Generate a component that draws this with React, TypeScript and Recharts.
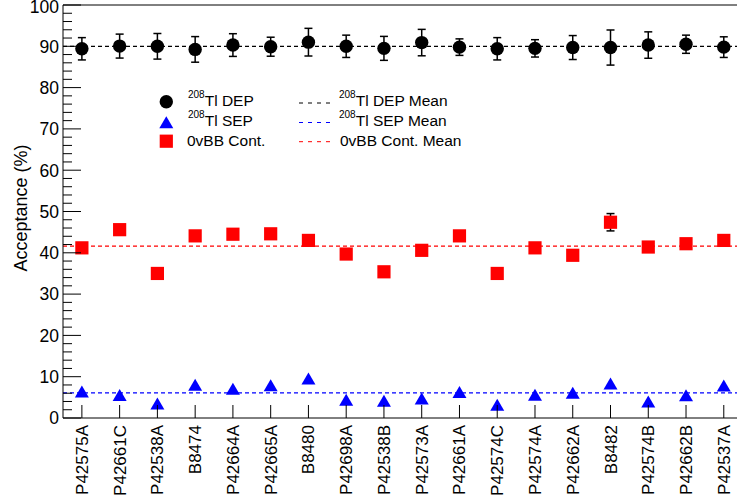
import { ScatterChart, Scatter, XAxis, YAxis, ErrorBar, ReferenceLine } from 'recharts';

const detectors = [
  'P42575A', 'P42661C', 'P42538A', 'B8474', 'P42664A', 'P42665A', 'B8480', 'P42698A', 'P42538B',
  'P42573A', 'P42661A', 'P42574C', 'P42574A', 'P42662A', 'B8482', 'P42574B', 'P42662B', 'P42537A',
];
const depValues = [89.4, 90.05, 90.0, 89.25, 90.3, 89.9, 91.0, 90.0, 89.5, 90.9, 89.8, 89.4, 89.5, 89.7, 89.7, 90.3, 90.5, 89.8];
const depErrors = [2.7, 2.9, 3.1, 3.1, 2.75, 2.3, 3.35, 2.7, 2.9, 3.2, 2.0, 2.7, 2.1, 2.9, 4.25, 3.2, 2.2, 2.5];
const sepValues = [6.4, 5.55, 3.5, 8.05, 7.1, 7.9, 9.55, 4.4, 4.2, 4.7, 6.3, 3.2, 5.6, 6.1, 8.35, 4.0, 5.5, 7.85];
const contValues = [41.2, 45.6, 35.0, 44.1, 44.5, 44.6, 43.0, 39.7, 35.4, 40.6, 44.1, 35.0, 41.2, 39.4, 47.4, 41.4, 42.2, 43.0];
const contErrors = [0.9, 1.0, 0.8, 1.0, 1.0, 1.0, 0.9, 0.9, 0.8, 0.9, 1.0, 0.8, 0.9, 0.9, 2.1, 0.9, 1.0, 1.0];
const depMean = 90.0;
const sepMean = 6.1;
const contMean = 41.6;
const yTicks = [0, 2, 4, 6, 8, 10, 12, 14, 16, 18, 20, 22, 24, 26, 28, 30, 32, 34, 36, 38, 40, 42, 44, 46, 48, 50,
  52, 54, 56, 58, 60, 62, 64, 66, 68, 70, 72, 74, 76, 78, 80, 82, 84, 86, 88, 90, 92, 94, 96, 98, 100];

const FONT = '"Liberation Sans", Arial, Helvetica, sans-serif';

const depData = detectors.map((_, i) => ({ x: i, y: depValues[i], err: depErrors[i] }));
const sepData = detectors.map((_, i) => ({ x: i, y: sepValues[i] }));
const contData = detectors.map((_, i) => ({ x: i, y: contValues[i], err: contErrors[i] }));

// ROOT-style markers
const Circle = (props: any) => <circle cx={props.cx} cy={props.cy} r={6.7} fill="#000" />;
const Square = (props: any) => <rect x={props.cx - 6.6} y={props.cy - 6.6} width={13.2} height={13.2} fill="#ff0000" />;
const Triangle = (props: any) => {
  const { cx, cy } = props;
  return <polygon points={`${cx - 7},${cy + 6} ${cx + 7},${cy + 6} ${cx},${cy - 6}`} fill="#0000ff" />;
};

const YTick = ({ x, y, payload }: any) => {
  const major = payload.value % 10 === 0;
  // keep the top label inside the canvas
  const ty = payload.value === 100 ? y + 1.5 : y;
  return (
    <g>
      <line x1={x} x2={x + (major ? 18 : 9)} y1={y} y2={y} stroke="#000" strokeWidth={1} />
      {major && (
        <text x={x - 4} y={ty} dy="0.36em" textAnchor="end" fontSize={17.5} fontFamily={FONT} fill="#000">
          {payload.value}
        </text>
      )}
    </g>
  );
};

const XTick = ({ x, y, payload }: any) => (
  <g>
    <line x1={x} x2={x} y1={y} y2={y - 13} stroke="#000" strokeWidth={1} />
    <text
      x={x + 6}
      y={y + 7}
      transform={`rotate(-90, ${x + 6}, ${y + 7})`}
      textAnchor="end"
      fontSize={17}
      fontFamily={FONT}
      fill="#000"
    >
      {detectors[payload.value]}
    </text>
  </g>
);

const Iso = ({ x, y, label }: { x: number; y: number; label: string }) => (
  <text x={x} y={y} fontFamily={FONT} fill="#000">
    <tspan fontSize={10} dy={-8}>208</tspan>
    <tspan fontSize={15.5} dy={8}>{label}</tspan>
  </text>
);

const ChartLegend = () => (
  <svg width={737} height={502} style={{ position: 'absolute', left: 0, top: 0, pointerEvents: 'none' }}>
    <text
      x={26.5}
      y={208}
      transform="rotate(-90, 26.5, 208)"
      textAnchor="middle"
      fontSize={18}
      fontFamily={FONT}
      fill="#000"
    >
      Acceptance (%)
    </text>
    <circle cx={166.3} cy={101.7} r={6.7} fill="#000" />
    <polygon points="159.3,128.2 173.3,128.2 166.3,116.2" fill="#0000ff" />
    <rect x={159.7} y={134.6} width={13.2} height={13.2} fill="#ff0000" />
    <Iso x={188} y={106} label="Tl DEP" />
    <Iso x={188} y={126} label="Tl SEP" />
    <text x={187} y={146} fontSize={15.5} fontFamily={FONT}>0vBB Cont.</text>
    <line x1={299} x2={332} y1={103} y2={103} stroke="#000" strokeDasharray="4 5" />
    <line x1={299} x2={332} y1={122.5} y2={122.5} stroke="#0000ff" strokeDasharray="4 5" />
    <line x1={299} x2={332} y1={141.7} y2={141.7} stroke="#ff0000" strokeDasharray="4 5" />
    <Iso x={339} y={106} label="Tl DEP Mean" />
    <Iso x={339} y={126} label="Tl SEP Mean" />
    <text x={340} y={146} fontSize={15.5} fontFamily={FONT}>0vBB Cont. Mean</text>
  </svg>
);

export default function App() {
  return (
    <div style={{ position: 'absolute', left: 0, top: 0, width: 737, height: 502, background: '#fff', overflow: 'hidden' }}>
      <ScatterChart width={737} height={502} margin={{ top: 5, right: 0, bottom: 4, left: 5 }}>
        <XAxis
          type="number"
          dataKey="x"
          domain={[-0.5, 17.35]}
          ticks={detectors.map((_, i) => i)}
          interval={0}
          height={80}
          tickSize={0}
          tickMargin={0}
          tick={<XTick />}
          axisLine={{ stroke: '#000', strokeWidth: 1 }}
          allowDataOverflow
        />
        <YAxis
          type="number"
          dataKey="y"
          domain={[0, 100]}
          ticks={yTicks}
          interval={0}
          width={58}
          tickSize={0}
          tickMargin={0}
          tick={<YTick />}
          axisLine={{ stroke: '#000', strokeWidth: 1 }}
        />
        <ReferenceLine y={100} stroke="#000" strokeWidth={1} />
        <ReferenceLine y={depMean} stroke="#000" strokeDasharray="4 3" strokeWidth={1.2} />
        <ReferenceLine y={sepMean} stroke="#0000ff" strokeDasharray="4 3" strokeWidth={1.2} />
        <ReferenceLine y={contMean} stroke="#ff0000" strokeDasharray="4 3" strokeWidth={1.2} />
        <Scatter data={depData} shape={<Circle />} isAnimationActive={false}>
          <ErrorBar dataKey="err" direction="y" width={4} stroke="#000" strokeWidth={1.5} />
        </Scatter>
        <Scatter data={contData} shape={<Square />} isAnimationActive={false}>
          <ErrorBar dataKey="err" direction="y" width={4} stroke="#000" strokeWidth={1.5} />
        </Scatter>
        <Scatter data={sepData} shape={<Triangle />} isAnimationActive={false} />
      </ScatterChart>
      <ChartLegend />
    </div>
  );
}
